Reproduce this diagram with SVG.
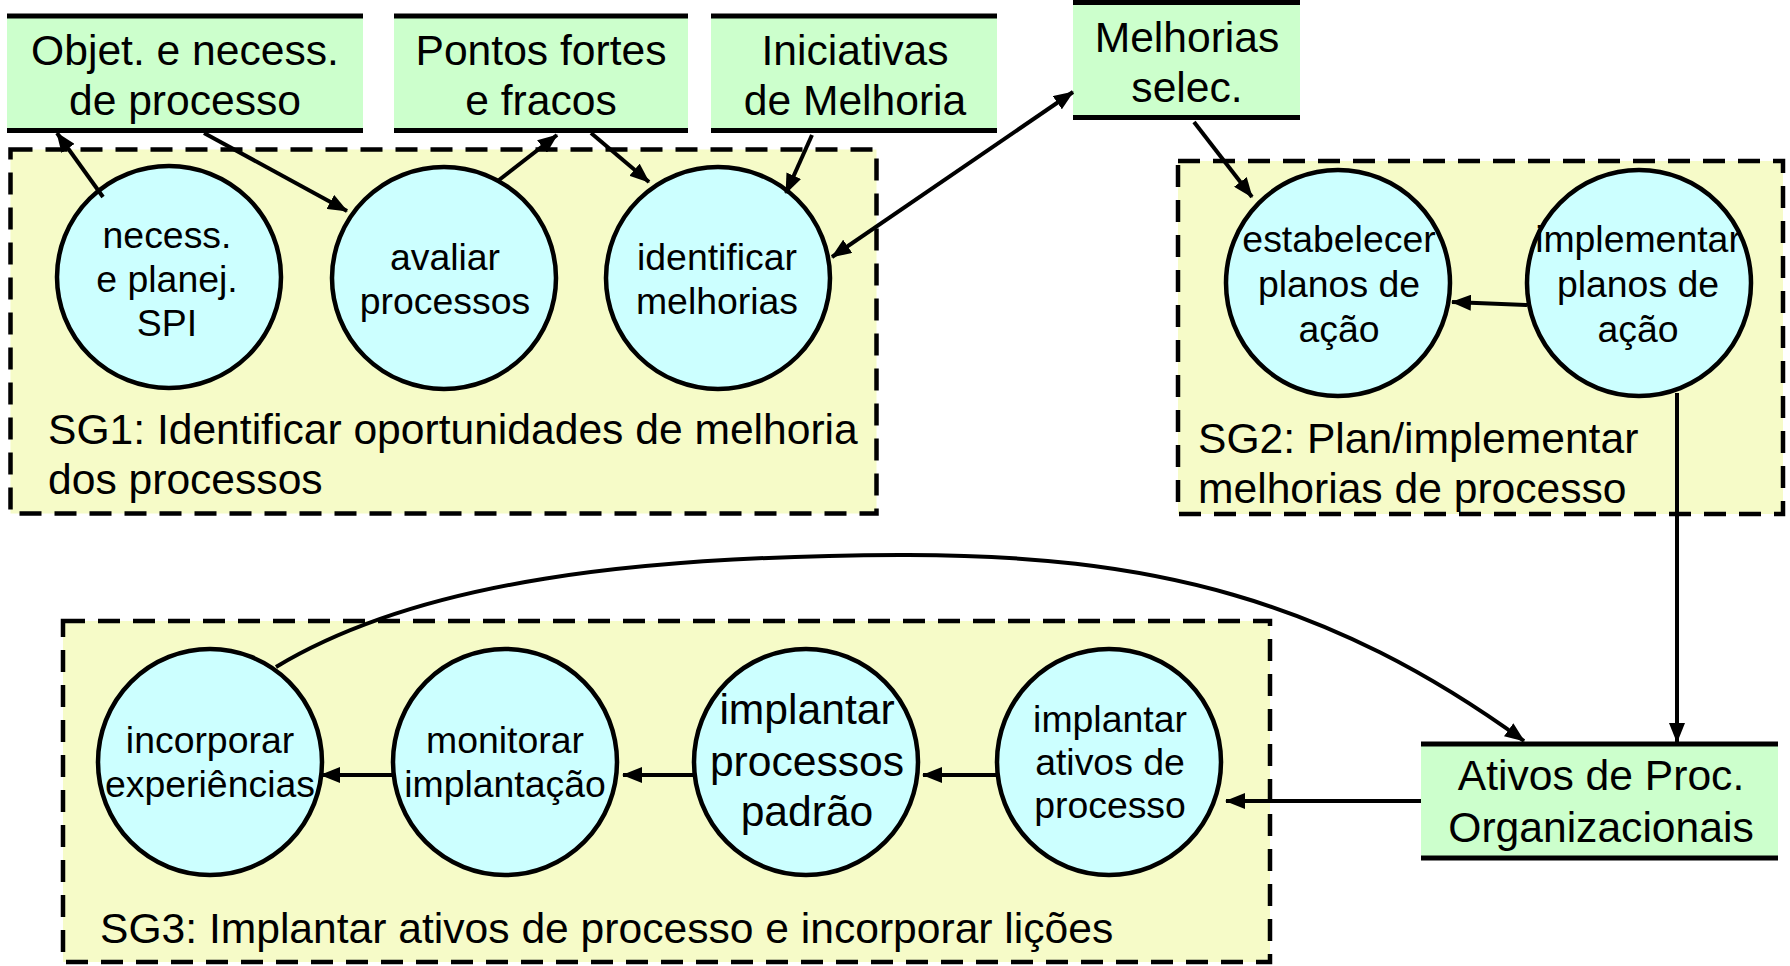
<svg xmlns="http://www.w3.org/2000/svg" width="1790" height="966" viewBox="0 0 1790 966">
<style>
text{font-family:"Liberation Sans",Arial,sans-serif;fill:#000;text-anchor:middle}
.sg{fill:#f6fbc8;stroke:#000;stroke-width:4.5;stroke-dasharray:22 13}
.bx{fill:#ccffcc}
.bar{stroke:#000;stroke-width:5}
.c{fill:#ccffff;stroke:#000;stroke-width:4.5}
.t37{font-size:37.4px}
.t42{font-size:42.6px}
.lbl{font-size:42.6px;text-anchor:start}
.cn{fill:none;stroke:#000;stroke-width:4}
</style>
<defs>
<marker id="ah" viewBox="0 0 20 16" refX="19" refY="8" markerWidth="20" markerHeight="16" markerUnits="userSpaceOnUse" orient="auto-start-reverse">
<path d="M0,0 L20,8 L0,16 Z" fill="#000"/>
</marker>
</defs>
<g id="sg1">
<rect class="sg" x="10.5" y="149.5" width="866" height="364"/>
<text class="lbl" x="48" y="444">SG1: Identificar oportunidades de melhoria</text>
<text class="lbl" x="48" y="494">dos processos</text>
</g>
<g id="sg2">
<rect class="sg" x="1178" y="161" width="605" height="353"/>
<text class="lbl" x="1198" y="453">SG2: Plan/implementar</text>
<text class="lbl" x="1198" y="503">melhorias de processo</text>
</g>
<g id="sg3">
<rect class="sg" x="63" y="621" width="1207" height="341"/>
<text class="lbl" x="100" y="943">SG3: Implantar ativos de processo e incorporar lições</text>
</g>
<g id="objet">
<rect class="bx" x="7" y="16" width="356" height="115"/>
<line class="bar" x1="7" y1="16" x2="363" y2="16"/>
<line class="bar" x1="7" y1="130.5" x2="363" y2="130.5"/>
<text class="t42" x="185" y="65">Objet. e necess.</text>
<text class="t42" x="185" y="115">de processo</text>
</g>
<g id="pontos">
<rect class="bx" x="394" y="16" width="294" height="115"/>
<line class="bar" x1="394" y1="16" x2="688" y2="16"/>
<line class="bar" x1="394" y1="130.5" x2="688" y2="130.5"/>
<text class="t42" x="541" y="65">Pontos fortes</text>
<text class="t42" x="541" y="115">e fracos</text>
</g>
<g id="iniciativas">
<rect class="bx" x="711" y="16" width="286" height="115"/>
<line class="bar" x1="711" y1="16" x2="997" y2="16"/>
<line class="bar" x1="711" y1="130.5" x2="997" y2="130.5"/>
<text class="t42" x="855" y="65">Iniciativas</text>
<text class="t42" x="855" y="115">de Melhoria</text>
</g>
<g id="melhorias">
<rect class="bx" x="1073" y="2.5" width="227" height="115"/>
<line class="bar" x1="1073" y1="2.5" x2="1300" y2="2.5"/>
<line class="bar" x1="1073" y1="117.5" x2="1300" y2="117.5"/>
<text class="t42" x="1187" y="52">Melhorias</text>
<text class="t42" x="1187" y="102">selec.</text>
</g>
<g id="ativos">
<rect class="bx" x="1421" y="744" width="357" height="114"/>
<line class="bar" x1="1421" y1="744" x2="1778" y2="744"/>
<line class="bar" x1="1421" y1="858" x2="1778" y2="858"/>
<text class="t42" x="1601" y="790">Ativos de Proc.</text>
<text class="t42" x="1601" y="842">Organizacionais</text>
</g>
<g id="necess">
<ellipse class="c" cx="169" cy="277" rx="112" ry="111"/>
<text class="t37" x="167" y="248">necess.</text>
<text class="t37" x="167" y="292">e planej.</text>
<text class="t37" x="167" y="336">SPI</text>
</g>
<g id="avaliar">
<ellipse class="c" cx="444" cy="278" rx="112" ry="111"/>
<text class="t37" x="445" y="270">avaliar</text>
<text class="t37" x="445" y="314">processos</text>
</g>
<g id="identificar">
<ellipse class="c" cx="718" cy="278" rx="112" ry="111"/>
<text class="t37" x="717" y="270">identificar</text>
<text class="t37" x="717" y="314">melhorias</text>
</g>
<g id="estabelecer">
<ellipse class="c" cx="1338" cy="283" rx="112" ry="113"/>
<text class="t37" x="1339" y="252">estabelecer</text>
<text class="t37" x="1339" y="297">planos de</text>
<text class="t37" x="1339" y="342">ação</text>
</g>
<g id="implementar">
<ellipse class="c" cx="1639" cy="283" rx="112" ry="113"/>
<text class="t37" x="1638" y="252">implementar</text>
<text class="t37" x="1638" y="297">planos de</text>
<text class="t37" x="1638" y="342">ação</text>
</g>
<g id="incorporar">
<ellipse class="c" cx="210" cy="762" rx="112" ry="113"/>
<text class="t37" x="210" y="753">incorporar</text>
<text class="t37" x="210" y="797">experiências</text>
</g>
<g id="monitorar">
<ellipse class="c" cx="505" cy="762" rx="112" ry="113"/>
<text class="t37" x="505" y="753">monitorar</text>
<text class="t37" x="505" y="797">implantação</text>
</g>
<g id="implantar-padrao">
<ellipse class="c" cx="806" cy="762" rx="112" ry="113"/>
<text class="t42" x="807" y="724">implantar</text>
<text class="t42" x="807" y="776">processos</text>
<text class="t42" x="807" y="826">padrão</text>
</g>
<g id="implantar-ativos">
<ellipse class="c" cx="1109" cy="762" rx="112" ry="113"/>
<text class="t37" x="1110" y="732">implantar</text>
<text class="t37" x="1110" y="775">ativos de</text>
<text class="t37" x="1110" y="818">processo</text>
</g>
<g id="connectors">
<line class="cn" x1="103" y1="197" x2="57" y2="133" marker-end="url(#ah)"/>
<line class="cn" x1="204" y1="133" x2="347" y2="211" marker-end="url(#ah)"/>
<line class="cn" x1="499" y1="180" x2="557" y2="135" marker-end="url(#ah)"/>
<line class="cn" x1="591" y1="133" x2="649" y2="182" marker-end="url(#ah)"/>
<line class="cn" x1="812" y1="135" x2="786" y2="193" marker-end="url(#ah)"/>
<line class="cn" x1="832" y1="257" x2="1073" y2="92" marker-start="url(#ah)" marker-end="url(#ah)"/>
<line class="cn" x1="1194" y1="122" x2="1252" y2="197" marker-end="url(#ah)"/>
<line class="cn" x1="1527" y1="305" x2="1452" y2="302" marker-end="url(#ah)"/>
<line class="cn" x1="1677" y1="393" x2="1677" y2="742" marker-end="url(#ah)"/>
<line class="cn" x1="1421" y1="801" x2="1226" y2="801" marker-end="url(#ah)"/>
<line class="cn" x1="996" y1="775" x2="923" y2="775" marker-end="url(#ah)"/>
<line class="cn" x1="695" y1="775" x2="623" y2="775" marker-end="url(#ah)"/>
<line class="cn" x1="393" y1="775" x2="321" y2="775" marker-end="url(#ah)"/>
<path class="cn" d="M276,667 C420,580 640,556 900,555 C1150,554 1330,600 1524,741" marker-end="url(#ah)"/>
</g>
</svg>
